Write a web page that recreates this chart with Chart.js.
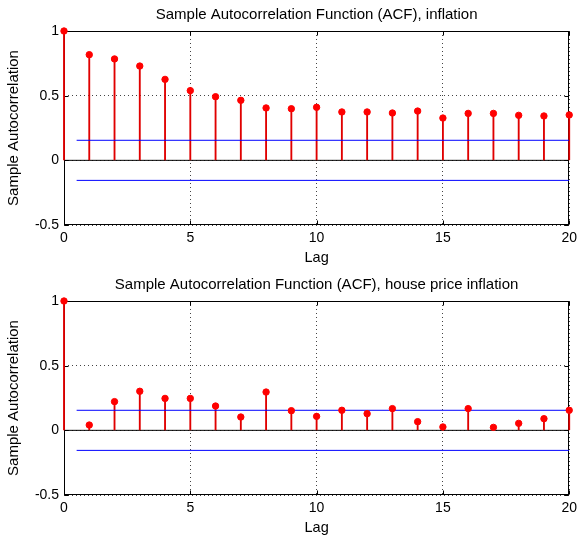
<!DOCTYPE html>
<html>
<head>
<meta charset="utf-8">
<script src="https://cdn.jsdelivr.net/npm/chart.js@4.4.1/dist/chart.umd.min.js"></script>
<style>
  html, body { margin: 0; padding: 0; background: #fff; overflow: hidden; }
  canvas { display: block; }
</style>
</head>
<body>
<canvas id="c1" width="582" height="270"></canvas>
<canvas id="c2" width="582" height="270"></canvas>
<script>
// ---- data ----
const lags = [0, 1, 2, 3, 4, 5, 6, 7, 8, 9, 10, 11, 12, 13, 14, 15, 16, 17, 18, 19, 20];
const acfInflation = [1, 0.817, 0.784, 0.729, 0.626, 0.539, 0.492, 0.464, 0.405, 0.399, 0.410,
                      0.374, 0.374, 0.366, 0.381, 0.327, 0.363, 0.363, 0.348, 0.343, 0.351];
const acfHousePrice = [1, 0.041, 0.222, 0.302, 0.247, 0.247, 0.188, 0.103, 0.296, 0.152, 0.108,
                       0.155, 0.129, 0.168, 0.067, 0.026, 0.168, 0.023, 0.054, 0.090, 0.155];
const boundInflation = 0.155;
const boundHousePrice = 0.155;
const boundLagRange = [0.5, 20];
const xTickValues = [0, 5, 10, 15, 20];
const yTickValues = [-0.5, 0, 0.5, 1];
const titles = ['Sample Autocorrelation Function (ACF), inflation',
                'Sample Autocorrelation Function (ACF), house price inflation'];

// ---- styling ----
const FONT = 'Liberation Sans, Arial, sans-serif';
const boxPlugin = {
  id: 'box',
  beforeDatasetsDraw(chart) {
    const { ctx, chartArea: a, scales } = chart;
    ctx.save();
    ctx.strokeStyle = '#000';
    ctx.lineWidth = 1;
    const L = Math.round(a.left) + 0.5, R = Math.round(a.right) - 0.5;
    const T = Math.round(a.top) + 0.5, B = Math.round(a.bottom) - 0.5;
    ctx.strokeRect(L, T, R - L, B - T);
    const tl = 4;
    ctx.beginPath();
    xTickValues.forEach(v => {
      const x = Math.round(scales.x.getPixelForValue(v)) + 0.5;
      ctx.moveTo(x, B); ctx.lineTo(x, B - tl);
      ctx.moveTo(x, T); ctx.lineTo(x, T + tl);
    });
    yTickValues.forEach(v => {
      const y = Math.round(scales.y.getPixelForValue(v)) + 0.5;
      ctx.moveTo(L, y); ctx.lineTo(L + tl, y);
      ctx.moveTo(R, y); ctx.lineTo(R - tl, y);
    });
    ctx.stroke();
    ctx.restore();
  }
};

function makeChart(id, title, values, bound) {
  const pts = lags.map((l, i) => ({ x: l, y: values[i] }));
  return new Chart(document.getElementById(id), {
    type: 'scatter',
    data: {
      datasets: [
        { type: 'scatter', data: pts, pointRadius: 3.2, pointHoverRadius: 3.2, pointBorderWidth: 1,
          backgroundColor: '#ff0000', borderColor: '#ff0000', clip: false },
        { type: 'line', data: [{ x: boundLagRange[0], y: bound }, { x: boundLagRange[1], y: bound }],
          borderColor: '#0000ff', borderWidth: 1, pointRadius: 0, fill: false },
        { type: 'line', data: [{ x: boundLagRange[0], y: -bound }, { x: boundLagRange[1], y: -bound }],
          borderColor: '#0000ff', borderWidth: 1, pointRadius: 0, fill: false },
        { type: 'bar', data: pts, backgroundColor: '#e00000', barThickness: 1.2, borderWidth: 0, clip: false },
        { type: 'line', data: [{ x: 0, y: 0 }, { x: 20, y: 0 }],
          borderColor: '#000', borderWidth: 1, pointRadius: 0, fill: false }
      ]
    },
    options: {
      responsive: false,
      animation: false,
      events: [],
      layout: { padding: { left: 0, right: 11, top: 0, bottom: 0 } },
      plugins: {
        legend: { display: false },
        tooltip: { enabled: false },
        title: { display: true, text: title, fullSize: false, color: '#000',
                 font: { family: FONT, size: 15, weight: 'normal' }, padding: { top: 6, bottom: 7 } }
      },
      scales: {
        x: {
          type: 'linear', min: 0, max: 20, offset: false,
          afterBuildTicks: s => { s.ticks = xTickValues.map(v => ({ value: v })); },
          afterFit: s => { s.height = 45; },
          ticks: { color: '#000', font: { family: FONT, size: 14 }, padding: 5, maxRotation: 0,
                   autoSkip: false, callback: v => String(v) },
          grid: { color: '#444', drawTicks: false, offset: false },
          border: { display: false, dash: [1, 3] },
          title: { display: true, text: 'Lag', color: '#000', font: { family: FONT, size: 14.5 },
                   padding: { top: 0, bottom: 3 } }
        },
        y: {
          type: 'linear', min: -0.5, max: 1,
          afterBuildTicks: s => { s.ticks = yTickValues.map(v => ({ value: v })); },
          afterFit: s => { s.width = 64; },
          ticks: { color: '#000', font: { family: FONT, size: 14 }, padding: 5,
                   callback: v => String(v) },
          grid: { color: '#444', drawTicks: false },
          border: { display: false, dash: [1, 3] },
          title: { display: true, text: 'Sample Autocorrelation', color: '#000',
                   font: { family: FONT, size: 15 }, padding: { top: 5, bottom: 0 } }
        }
      }
    },
    plugins: [boxPlugin]
  });
}

makeChart('c1', titles[0], acfInflation, boundInflation);
makeChart('c2', titles[1], acfHousePrice, boundHousePrice);
</script>
</body>
</html>
